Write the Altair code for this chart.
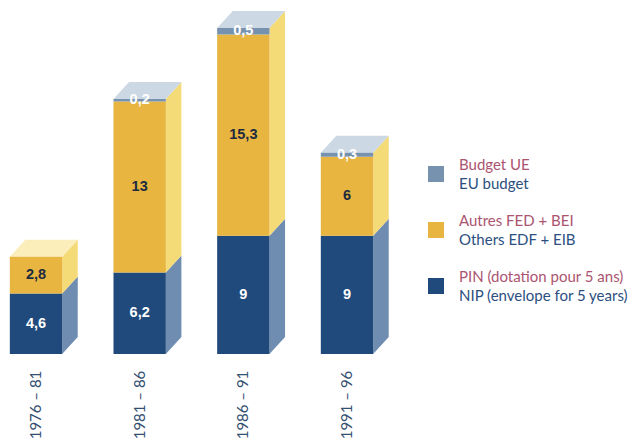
import altair as alt
import pandas as pd

# Funding per convention period, in billions of ECU
periods = ["1976 – 81", "1981 – 86", "1986 – 91", "1991 – 96"]
nip = [4.6, 6.2, 9, 9]
others = [2.8, 13, 15.3, 6]
eu_budget = [0, 0.2, 0.5, 0.3]

BLUE, BLUE_SIDE = "#214a7c", "#6f8db0"
GOLD, GOLD_SIDE, GOLD_TOP = "#e7b540", "#f5da78", "#fbeebb"
GREY, GREY_TOP = "#7792ae", "#ccd8e3"
RED_TEXT, NAVY_TEXT = "#ab5470", "#2c4f7f"

# Scale domains: one x unit is the spacing between bars
X_SCALE = alt.Scale(domain=[-0.3473, 5.7493], range=[0, 632], nice=False, zero=False)
Y_SCALE = alt.Scale(domain=[-6.69, 26.92], range=[442, 0], nice=False, zero=False)
HALF = 0.2525      # half a bar's front width
DX, DY = 0.15, 1.29  # extrusion of the block along each axis

fronts, faces, labels = [], [], []
for i, period in enumerate(periods):
    left, right = i - HALF, i + HALF
    a, b = nip[i], nip[i] + others[i]
    total = b + eu_budget[i]
    fronts.append(dict(x=left, x2=right, y=0, y2=a, color=BLUE))
    fronts.append(dict(x=left, x2=right, y=a, y2=b, color=GOLD))
    if eu_budget[i]:
        fronts.append(dict(x=left, x2=right, y=b, y2=total, color=GREY))

    # Side walls are two-point areas slanted by the extrusion
    for name, lo, hi, col in [("blue", 0, a, BLUE_SIDE), ("gold", a, total, GOLD_SIDE)]:
        key = f"{i}-{name}"
        faces.append(dict(face=key, x=right, y=lo, y2=hi, color=col))
        faces.append(dict(face=key, x=right + DX, y=lo + DY, y2=hi + DY, color=col))

    # Roof is a four-point area forming a parallelogram
    col = GREY_TOP if eu_budget[i] else GOLD_TOP
    key = f"{i}-top"
    for x, lo, hi in [(left, total, total), (left + DX, total, total + DY),
                      (right, total, total + DY), (right + DX, total + DY, total + DY)]:
        faces.append(dict(face=key, x=x, y=lo, y2=hi, color=col))

    labels.append(dict(x=i, y=a / 2, text=f"{a:g}".replace(".", ","), color="#ffffff"))
    labels.append(dict(x=i, y=a + others[i] / 2, text=f"{others[i]:g}".replace(".", ","), color="#1d2a3f"))
    if eu_budget[i]:
        labels.append(dict(x=i, y=b + eu_budget[i] / 2, text=f"{eu_budget[i]:g}".replace(".", ","), color="#ffffff"))

x_q = alt.X("x:Q", scale=X_SCALE, axis=None)
y_q = alt.Y("y:Q", scale=Y_SCALE, axis=None)
color_id = alt.Color("color:N", scale=None, legend=None)

front_layer = alt.Chart(pd.DataFrame(fronts)).mark_rect(strokeWidth=0).encode(
    x=x_q, x2="x2:Q", y=y_q, y2="y2:Q", color=color_id
)
# Each face is drawn as its own area so the pieces never stack
face_df = pd.DataFrame(faces)
face_layers = [
    alt.Chart(face_df[face_df["face"] == key]).mark_area(
        orient="vertical", color=group["color"].iloc[0], opacity=1
    ).encode(
        x=x_q,
        y=alt.Y("y:Q", scale=Y_SCALE, axis=None, stack=None),
        y2="y2:Q",
    )
    for key, group in face_df.groupby("face", sort=False)
]
value_layer = alt.Chart(pd.DataFrame(labels)).mark_text(
    font="Liberation Sans", fontSize=14.5, fontWeight="bold", baseline="middle", align="center"
).encode(x=x_q, y=y_q, text="text:N", color=color_id)

period_layer = alt.Chart(pd.DataFrame({"x": range(4), "period": periods})).mark_text(
    font="Lato", fontSize=15, angle=270, align="center", baseline="middle", color="#34506f"
).encode(x=x_q, y=alt.value(405), text="period:N")

# Hand-built key: swatch plus a French and an English line
legend_rows = [
    ("Budget UE", "EU budget", GREY),
    ("Autres FED + BEI", "Others EDF + EIB", GOLD),
    ("PIN (dotation pour 5 ans)", "NIP (envelope for 5 years)", BLUE),
]
legend_layers = []
for i, (french, english, swatch) in enumerate(legend_rows):
    top = 174 + 56 * i
    row = pd.DataFrame({"fr": [french], "en": [english]})
    legend_layers.append(alt.Chart(row).mark_square(size=256, color=swatch, opacity=1).encode(
        x=alt.value(436), y=alt.value(top)))
    legend_layers.append(alt.Chart(row).mark_text(
        font="Lato", fontSize=15, align="left", baseline="middle", color=RED_TEXT
    ).encode(x=alt.value(459), y=alt.value(top - 9), text="fr:N"))
    legend_layers.append(alt.Chart(row).mark_text(
        font="Lato", fontSize=15, align="left", baseline="middle", color=NAVY_TEXT
    ).encode(x=alt.value(459), y=alt.value(top + 10), text="en:N"))

chart = alt.layer(
    *face_layers, front_layer, value_layer, period_layer, *legend_layers
).properties(
    width=632, height=442, padding=0, autosize=alt.AutoSizeParams(type="none"), background="#ffffff"
).configure_view(stroke=None)

chart.save("out.html", embed_options={"renderer": "svg", "actions": False})
